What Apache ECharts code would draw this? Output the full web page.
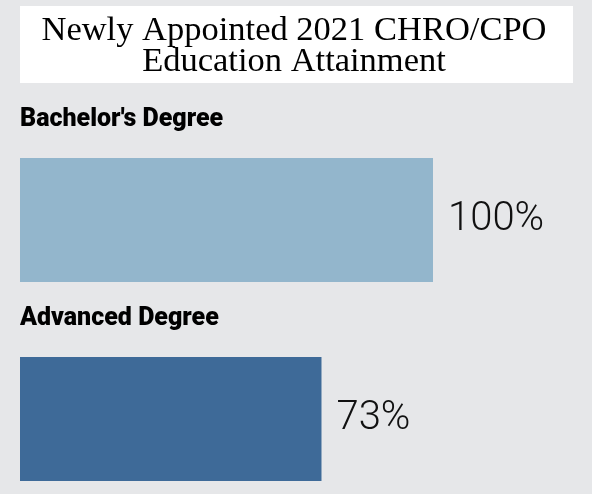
<!DOCTYPE html>
<html><head><meta charset="utf-8">
<script src="https://cdn.jsdelivr.net/npm/echarts@6/dist/echarts.min.js"></script>
<style>html,body{margin:0;padding:0;background:#e6e7e9;}#c{width:592px;height:494px;}</style>
</head><body><div id="c"></div>
<script>
const titleLines = ["Newly Appointed 2021 CHRO/CPO", "Education Attainment"];
const categories = ["Bachelor's Degree", "Advanced Degree"];
const values = [100, 73];
const barColors = ["#93b6cc", "#3e6a98"];

const chart = echarts.init(document.getElementById('c'), null, {renderer: 'canvas'});
const option = {
  backgroundColor: '#e6e7e9',
  animation: false,
  grid: {left: 20, right: 159, top: 220, height: 199},
  xAxis: {type: 'value', min: 0, max: 100, show: false},
  yAxis: {type: 'category', data: categories, inverse: true, show: false, boundaryGap: false},
  series: [{
    type: 'bar',
    barWidth: 124,
    data: values.map((v, i) => ({value: v, itemStyle: {color: barColors[i]}})),
    label: {
      show: true, position: 'right', distance: 15,
      formatter: p => p.value + '%',
      fontFamily: 'Roboto', fontWeight: 300, fontSize: 40, color: '#111'
    }
  }]
};
chart.setOption(option);

const graphics = [
  {type: 'rect', shape: {x: 20, y: 6, width: 553, height: 77}, style: {fill: '#ffffff'}, z: 0},
  {type: 'text', x: 294, y: 31, style: {text: titleLines[0], font: '34.5px "Liberation Serif"', fill: '#000', textAlign: 'center', textVerticalAlign: 'middle'}, z: 1},
  {type: 'text', x: 294, y: 62, style: {text: titleLines[1], font: '34.5px "Liberation Serif"', fill: '#000', textAlign: 'center', textVerticalAlign: 'middle'}, z: 1}
];
categories.forEach((c, i) => {
  const pt = chart.convertToPixel({gridIndex: 0}, [0, c]);
  graphics.push({type: 'text', x: pt[0], y: pt[1] - 100,
    style: {text: c, font: '900 25px Roboto', fill: '#000', textAlign: 'left', textVerticalAlign: 'middle'}, z: 1});
});
chart.setOption({graphic: graphics});
</script></body></html>
